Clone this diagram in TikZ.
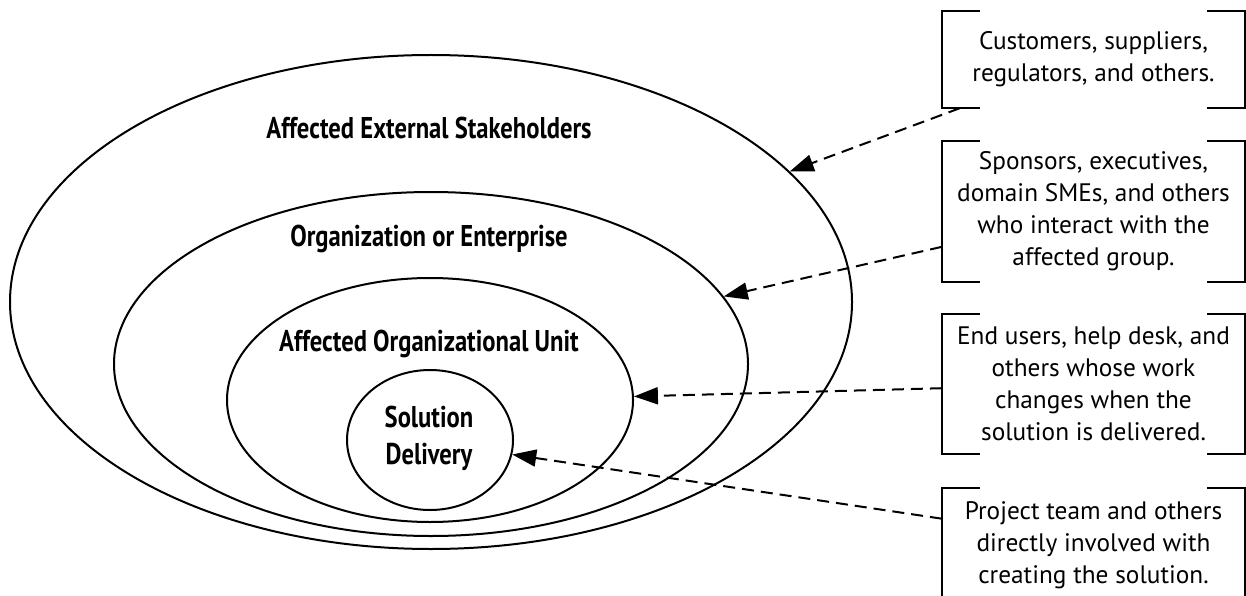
\documentclass[tikz,border=0pt]{standalone}
\usepackage{fontspec}
\setmainfont{PT Sans}
\newfontfamily\ringfont{PT Sans}[FakeStretch=0.82]
\usetikzlibrary{calc,shapes.geometric,arrows.meta}
\tikzset{>={Triangle[length=24pt,width=17pt]},
  ring/.style={draw,ellipse,line width=2pt,inner sep=0pt},
  ringlabel/.style={align=center,font=\ringfont\bfseries\fontsize{30}{37}\selectfont},
  note/.style={minimum width=303pt,inner sep=0pt,align=center,font=\fontsize{25.3}{32}\selectfont},
  link/.style={->,line width=2pt,dash pattern=on 12pt off 7pt}}

\begin{document}
\begin{tikzpicture}[x=1pt,y=-1pt]
\useasboundingbox (0,0) rectangle (1246,596);
% nested rings
\foreach \name/\cx/\cy/\rx/\ry in {ext/431/302/421/247,org/431/364/317/172,unit/430/400/203/122,sol/430/440/83/70}
  \node[ring,minimum width={2*\rx pt},minimum height={2*\ry pt}] (\name) at (\cx,\cy) {};
\node[ringlabel] (extlabel) at (429,128) {Affected External Stakeholders};
\node[ringlabel] (orglabel) at (429,239) {Organization or Enterprise};
\node[ringlabel] (unitlabel) at (429,344) {Affected Organizational Unit};
\node[ringlabel] (sollabel) at (429,438) {Solution\\Delivery};
% notes on the right
\node[note,minimum height=97pt] (extnote) at (1093.5,59.5) {Customers, suppliers,\\regulators, and others.};
\node[note,minimum height=141pt] (orgnote) at (1093.5,211.5) {Sponsors, executives,\\domain SMEs, and others\\who interact with the\\affected group.};
\node[note,minimum height=140pt] (unitnote) at (1093.5,384) {End users, help desk, and\\others whose work\\changes when the\\solution is delivered.};
\node[note,minimum height=114pt] (solnote) at (1093.5,545) {Project team and others\\directly involved with\\creating the solution.};
\foreach \b in {extnote,orgnote,unitnote,solnote} {
  \draw[line width=2pt] ($(\b.north west)+(38,0)$) -| (\b.south west) -- ++(38,0);
  \draw[line width=2pt] ($(\b.north east)+(-38,0)$) -| (\b.south east) -- ++(-38,0);
}
\draw[link] ($(extnote.south west)+(18,0)$) -- (ext.20);
\draw[link] ($(orgnote.south west)!.25!(orgnote.north west)$) -- (org.13);
\draw[link] ($(unitnote.south west)!.47!(unitnote.north west)$) -- (unit.1.4);
\draw[link] ($(solnote.south west)!.73!(solnote.north west)$) -- (sol.-10);
\end{tikzpicture}
\end{document}
